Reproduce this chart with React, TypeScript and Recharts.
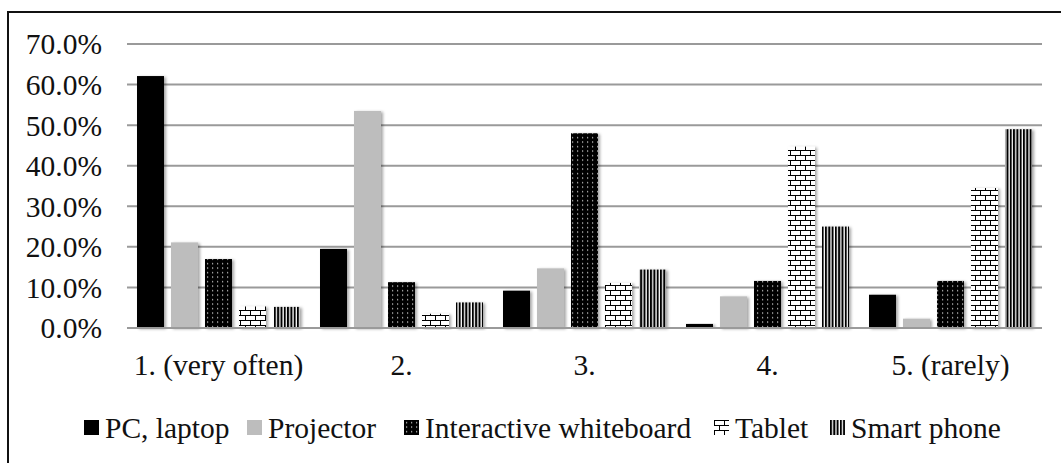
import React from 'react';
import { BarChart, Bar, XAxis, YAxis, CartesianGrid, Legend } from 'recharts';

// How often each device is used, share of respondents (%)
const categories = ['1. (very often)', '2.', '3.', '4.', '5. (rarely)'];
const pcLaptop = [62.1, 19.5, 9.2, 1.0, 8.2];
const projector = [21.1, 53.5, 14.7, 7.8, 2.3];
const interactiveWhiteboard = [17.0, 11.3, 48.0, 11.6, 11.6];
const tablet = [5.3, 3.5, 11.1, 44.7, 34.5];
const smartPhone = [5.2, 6.3, 14.4, 25.0, 49.0];
const yTicks = [0, 10, 20, 30, 40, 50, 60, 70];

const seriesNames = ['PC, laptop', 'Projector', 'Interactive whiteboard', 'Tablet', 'Smart phone'];
const seriesKeys = ['pc', 'projector', 'whiteboard', 'tablet', 'phone'];
const seriesFills = ['#000000', '#bdbdbd', 'url(#dotsPattern)', 'url(#brickPattern)', 'url(#stripePattern)'];
const legendLefts = [84, 247, 404, 714, 830];

const data = categories.map((c, i) => ({
  category: c,
  pc: pcLaptop[i],
  projector: projector[i],
  whiteboard: interactiveWhiteboard[i],
  tablet: tablet[i],
  phone: smartPhone[i],
}));

const FONT = "'Liberation Serif', 'DejaVu Serif', 'Times New Roman', serif";

const ShadowBar = (props: any) => {
  const { x, y, width, height, fill } = props;
  if (!height || height <= 0) return null;
  return <rect x={x} y={y} width={width} height={height} fill={fill} filter="url(#barShadow)" />;
};

const LegendContent = () => (
  <div style={{ position: 'relative', width: 1061, height: 40 }}>
    {seriesNames.map((n, i) => (
      <div
        key={n}
        style={{
          position: 'absolute',
          left: legendLefts[i],
          top: 0,
          height: 40,
          display: 'flex',
          alignItems: 'center',
          fontFamily: FONT,
          fontSize: 29.5,
          color: '#111',
          whiteSpace: 'nowrap',
        }}
      >
        <svg width={16} height={16} style={{ marginRight: 5 }}>
          <rect x={0} y={0} width={15} height={15} fill={seriesFills[i]} />
        </svg>
        {n}
      </div>
    ))}
  </div>
);

export default function App() {
  return (
    <div style={{ position: 'absolute', left: 0, top: 0, width: 1061, height: 463, background: '#fff', overflow: 'hidden', fontFamily: FONT }}>
      <div
        style={{
          position: 'absolute',
          left: 7,
          top: 11,
          width: 1100,
          height: 500,
          borderTop: '2px solid #111',
          borderLeft: '2px solid #111',
        }}
      />
      <BarChart
        width={1061}
        height={463}
        data={data}
        margin={{ top: 44, right: 19, left: 0, bottom: 95 }}
        barCategoryGap={10}
        barGap={7}
        style={{ fontFamily: FONT }}
      >
        <defs>
          <pattern id="dotsPattern" patternUnits="userSpaceOnUse" width={5} height={4.5}>
            <rect x={0} y={0} width={5} height={4.5} fill="#000" />
            <rect x={2} y={2} width={1.2} height={1.2} fill="#fff" fillOpacity={0.85} />
          </pattern>
          <pattern id="brickPattern" patternUnits="userSpaceOnUse" width={10} height={10}>
            <rect x={0} y={0} width={10} height={10} fill="#fff" />
            <rect x={0} y={0} width={10} height={1} fill="#000" />
            <rect x={0} y={5} width={10} height={1} fill="#000" />
            <rect x={0} y={0} width={1} height={5} fill="#000" />
            <rect x={5} y={5} width={1} height={5} fill="#000" />
          </pattern>
          <pattern id="stripePattern" patternUnits="userSpaceOnUse" width={3.3} height={4}>
            <rect x={0} y={0} width={3.3} height={4} fill="#fff" />
            <rect x={0} y={0} width={2} height={4} fill="#000" />
          </pattern>
          <filter id="barShadow" x="-30%" y="-10%" width="160%" height="120%">
            <feDropShadow dx={2} dy={1} stdDeviation={1.8} floodColor="#000" floodOpacity={0.35} />
          </filter>
        </defs>
        <CartesianGrid vertical={false} stroke="#9a9a9a" strokeWidth={2} />
        <XAxis
          dataKey="category"
          height={40}
          axisLine={{ stroke: '#9a9a9a', strokeWidth: 2 }}
          tickLine={false}
          tickSize={0}
          tickMargin={26}
          tick={{ fontFamily: FONT, fontSize: 29.5, fill: '#111' }}
          interval={0}
        />
        <YAxis
          domain={[0, 70]}
          ticks={yTicks}
          width={127}
          axisLine={false}
          tickLine={false}
          tickSize={0}
          tickMargin={25}
          tickFormatter={(v: number) => v.toFixed(1) + '%'}
          tick={{ fontFamily: FONT, fontSize: 29.5, fill: '#111' }}
          interval={0}
        />
        <Legend
          verticalAlign="middle"
          layout="horizontal"
          align="center"
          wrapperStyle={{ top: 408, left: 0, width: 1061, height: 40 }}
          content={<LegendContent />}
        />
        {seriesKeys.map((k, i) => (
          <Bar
            key={k}
            dataKey={k}
            name={seriesNames[i]}
            fill={seriesFills[i]}
            shape={<ShadowBar />}
            isAnimationActive={false}
          />
        ))}
      </BarChart>
    </div>
  );
}
